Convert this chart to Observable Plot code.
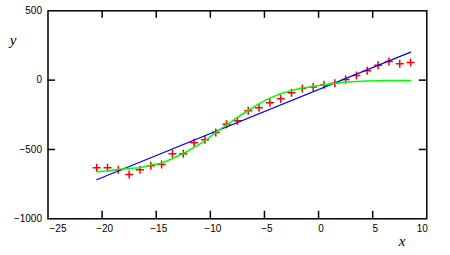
<!DOCTYPE html>
<html><head><meta charset="utf-8">
<script src="https://cdn.jsdelivr.net/npm/d3@7"></script>
<script src="https://cdn.jsdelivr.net/npm/@observablehq/plot@0.6"></script>
<style>body{margin:0;background:#fff} svg{display:block}</style>
</head><body><div id="chart"></div>
<script>
// measured data (red crosses)
const xData = [-20.5,-19.5,-18.5,-17.5,-16.5,-15.5,-14.5,-13.5,-12.5,-11.5,-10.5,-9.5,-8.5,-7.5,-6.5,-5.5,-4.5,-3.5,-2.5,-1.5,-0.5,0.5,1.5,2.5,3.5,4.5,5.5,6.5,7.5,8.5];
const yData = [-632,-632,-646,-680,-646,-617,-608,-531,-531,-451,-430,-377,-319,-293,-221,-199,-163,-134,-91,-60,-50,-33,-22,5,34,68,108,135,118,128];
// sigmoid fit (green), read at each data x
const yGreen = [-661,-655,-642,-637,-632,-612,-599,-565,-529,-485,-438,-377,-322,-269,-219,-170,-130,-98,-74,-56,-45,-33,-22,-13,-9,-7,-4,-3,-2,-2];
// linear fit (blue) end points
const xBlue = [-20.5, 8.5];
const yBlue = [-718, 202];
// axis ticks
const xTickLabels = [-25,-20,-15,-10,-5,0,5,10];
const yTickLabels = [500,0,-500,-1000];
const xInnerTicks = [-20,-15,-10,-5,0,5];
const yInnerTicks = [0,-500];

const pts = xData.map((x,i)=>({x, y:yData[i]}));
const green = xData.map((x,i)=>({x, y:yGreen[i]}));
const blue = xBlue.map((x,i)=>({x, y:yBlue[i]}));

const W = 450, H = 255;
const mL = 47.5, mR = 23.7, mT = 10.3, mB = 36.7;
const innerW = W - mL - mR, innerH = H - mT - mB;
const tl = 7.5;
const fmt = d => d < 0 ? "\u2212" + Math.abs(d) : String(d);
const labelFont = {fontFamily: "Liberation Sans, Arial, sans-serif", fontSize: 10, fill: "black"};
const xMid = xTickLabels.slice(1, -1);

const chart = Plot.plot({
  width: W, height: H,
  marginLeft: mL, marginRight: mR, marginTop: mT, marginBottom: mB,
  x: {domain: [-25, 10], axis: null},
  y: {domain: [-1000, 500], axis: null},
  style: {background: "white", overflow: "visible"},
  marks: [
    Plot.tickX(xInnerTicks, {x: d=>d, insetTop: innerH - tl, stroke: "black", strokeWidth: 1.5}),
    Plot.tickX(xInnerTicks, {x: d=>d, insetBottom: innerH - tl, stroke: "black", strokeWidth: 1.5}),
    Plot.tickY(yInnerTicks, {y: d=>d, insetRight: innerW - tl, stroke: "black", strokeWidth: 1.5}),
    Plot.tickY(yInnerTicks, {y: d=>d, insetLeft: innerW - tl, stroke: "black", strokeWidth: 1.5}),
    Plot.frame({stroke: "black", strokeWidth: 1.5}),
    Plot.text(xMid, {x: d=>d, frameAnchor: "bottom", lineAnchor: "top", dy: 6, dx: 2.5, text: fmt, ...labelFont}),
    Plot.text([xTickLabels[0]], {x: d=>d, frameAnchor: "bottom", lineAnchor: "top", dy: 6, dx: 1.5, textAnchor: "start", text: fmt, ...labelFont}),
    Plot.text([xTickLabels[xTickLabels.length-1]], {x: d=>d, frameAnchor: "bottom", lineAnchor: "top", dy: 6, dx: 1, textAnchor: "end", text: fmt, ...labelFont}),
    Plot.text(yTickLabels, {y: d=>d, frameAnchor: "left", textAnchor: "end", dx: -6, text: fmt, ...labelFont}),
    Plot.text(["y"], {frameAnchor: "top-left", dx: -35, dy: 34, lineAnchor: "bottom", textAnchor: "middle", fontFamily: "Liberation Serif, Times New Roman, serif", fontStyle: "italic", fontSize: 15, fill: "black"}),
    Plot.text(["x"], {frameAnchor: "bottom-right", dx: -24.8, dy: 26.7, lineAnchor: "bottom", textAnchor: "middle", fontFamily: "Liberation Serif, Times New Roman, serif", fontStyle: "italic", fontSize: 15, fill: "black"}),
    Plot.dot(pts, {x: "x", y: "y", symbol: "plus", r: 2.7, stroke: "#ff0000", strokeWidth: 1.5}),
    Plot.line(blue, {x: "x", y: "y", stroke: "#0000ff", strokeWidth: 1.2}),
    Plot.line(green, {x: "x", y: "y", stroke: "#00ff00", strokeWidth: 1.5, curve: "linear"})
  ]
});
document.getElementById("chart").appendChild(chart);
</script>
</body></html>
